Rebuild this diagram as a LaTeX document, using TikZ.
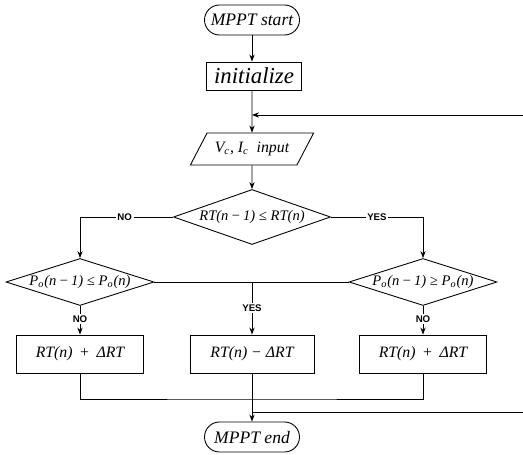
\documentclass[tikz,border=0pt]{standalone}
\usepackage{fontspec}
\setmainfont{Liberation Serif}
\newfontfamily\tagfont{Liberation Sans}
\usetikzlibrary{shapes.geometric,arrows.meta}

\begin{document}
\begin{tikzpicture}[
    x=0.02cm, y=-0.02cm,
    line width=0.5pt,
    >={Stealth[length=4pt,width=3pt]},
    text_format/.style={font=\itshape\fontsize{9}{11}\selectfont},
    terminal_box/.style={text_format, font=\itshape\fontsize{10}{12}\selectfont, draw,
      rounded corners=3mm, minimum width=1.9cm, minimum height=0.6cm},
    process_box/.style={text_format, draw, minimum width=2.54cm, minimum height=0.76cm},
    io_box/.style={text_format, draw, trapezium, trapezium left angle=58, trapezium right angle=122,
      minimum width=2.48cm, minimum height=0.64cm, trapezium stretches=true},
    decision_box/.style={text_format, font=\itshape\fontsize{8.3}{10}\selectfont, draw, diamond,
      aspect=3, inner sep=0pt},
    branch_tag/.style={font=\tagfont\bfseries\fontsize{5.5}{6}\selectfont, fill=white, inner sep=1pt},
    ]

    % --- Frame ---
    \useasboundingbox (0,0) rectangle (523,455);

    % --- Start, setup and input ---
    \node[terminal_box] (start) at (252,20) {MPPT start};
    \node[process_box, minimum width=1.9cm, minimum height=0.56cm,
      font=\itshape\fontsize{13}{15}\selectfont] (init) at (254,76) {initialize};
    \node[io_box] (input) at (252,149) {V\textsubscript{c}, I\textsubscript{c}\ \ input};

    % --- Decisions ---
    \node[decision_box, minimum width=3.14cm, minimum height=1.1cm] (check_rt) at (252,217)
      {RT(n\,−\,1) ≤ RT(n)};
    \node[decision_box, minimum width=2.96cm, minimum height=0.94cm] (check_left) at (80,282)
      {P\textsubscript{o}(n\,−\,1) ≤ P\textsubscript{o}(n)};
    \node[decision_box, minimum width=2.96cm, minimum height=0.94cm] (check_right) at (423,282)
      {P\textsubscript{o}(n\,−\,1) ≥ P\textsubscript{o}(n)};

    % --- Updates ---
    \node[process_box] (step_left) at (80,354) {RT(n)\,\ +\,\ ΔRT};
    \node[process_box, minimum width=2.48cm] (step_mid) at (252,354) {RT(n) − ΔRT};
    \node[process_box] (step_right) at (423,354) {RT(n)\,\ +\,\ ΔRT};

    % --- End ---
    \node[terminal_box] (stop) at (252,437) {MPPT end};

    % --- Loop ends at the right edge ---
    \coordinate (loop_in) at (523,115);
    \coordinate (loop_out) at (523,412);
    \coordinate (merge) at (252,399);
    \coordinate (split) at (252,282);

    % --- Connectors ---
    \draw[->] (start) -- (start |- init.north);
    \draw[->] (start |- init.south) -- (input);
    \draw[->] (loop_in) -- (loop_in -| input);
    \draw[->] (input) -- (check_rt);

    \draw[->] (check_rt.west) -| (check_left.north)
      node[branch_tag, pos=0.26] {NO};
    \draw[->] (check_rt.east) -| (check_right.north)
      node[branch_tag, pos=0.25] {YES};

    \draw[->] (check_left) -- (step_left)
      node[branch_tag, pos=0.45] {NO};
    \draw[->] (check_right) -- (step_right)
      node[branch_tag, pos=0.45] {NO};
    \draw (check_left.east) -- (check_right.west);
    \draw[->] (split) -- (step_mid)
      node[branch_tag, pos=0.5] {YES};

    \draw (step_left) |- (merge) -| (step_right);
    \draw[->] (step_mid) -- (stop);
    \draw (loop_out -| step_mid) -- (loop_out);

\end{tikzpicture}
\end{document}
